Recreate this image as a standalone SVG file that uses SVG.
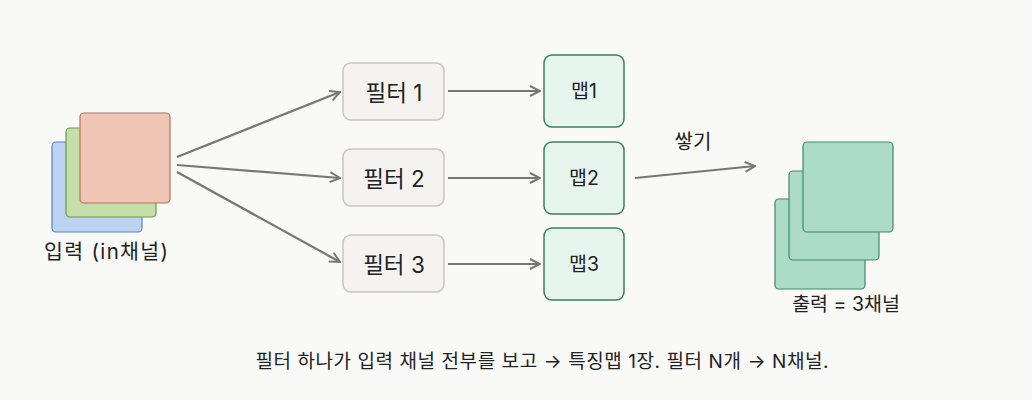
<svg xmlns="http://www.w3.org/2000/svg" width="1032" height="400" viewBox="0 0 1032 400">
<style>
text{font-family:"Inter","Noto Sans CJK KR",sans-serif;fill:#222;text-anchor:middle}
.filter{fill:#f4f3ef;stroke:#c8c6c1;stroke-width:1.5}
.map{fill:#e7f5ef;stroke:#3a7f61;stroke-width:1.5}
.out{fill:#acdcc8;stroke:#3f8a69;stroke-width:1.2}
.conn{stroke:#777;stroke-width:2.2;fill:none}
.ft{font-size:22.5px}
.mt{font-size:19.5px}
</style>
<defs>
<marker id="ah" viewBox="0 0 12 12" refX="11" refY="6" markerWidth="12" markerHeight="12" markerUnits="userSpaceOnUse" orient="auto">
<path d="M1,1 L11,6 L1,11" fill="none" stroke="#777" stroke-width="2"/>
</marker>
</defs>
<rect width="1032" height="400" fill="#f9f9f8"/>
<g id="input">
<rect x="52" y="142" width="90" height="90" rx="4" fill="#bcd4f1" stroke="#5b84c4" stroke-width="1.2"/>
<rect x="66" y="128" width="90" height="89" rx="4" fill="#c6dea7" stroke="#6a9a45" stroke-width="1.2"/>
<rect x="80" y="113" width="90" height="90" rx="4" fill="#efc6b6" stroke="#b5705c" stroke-width="1.2"/>
<text x="106" y="259" font-size="20.5" textLength="124" lengthAdjust="spacing">입력 (in채널)</text>
</g>
<g id="filter1"><rect class="filter" x="343" y="63" width="101" height="57" rx="8"/><text class="ft" x="394" y="101">필터 1</text></g>
<g id="filter2"><rect class="filter" x="343" y="149" width="101" height="57" rx="8"/><text class="ft" x="394" y="187">필터 2</text></g>
<g id="filter3"><rect class="filter" x="343" y="235" width="101" height="57" rx="8"/><text class="ft" x="394" y="273">필터 3</text></g>
<g id="map1"><rect class="map" x="544" y="55" width="80" height="72" rx="8"/><text class="mt" x="584" y="98">맵1</text></g>
<g id="map2"><rect class="map" x="544" y="142" width="80" height="72" rx="8"/><text class="mt" x="584" y="185">맵2</text></g>
<g id="map3"><rect class="map" x="544" y="228" width="80" height="72" rx="8"/><text class="mt" x="584" y="271">맵3</text></g>
<g id="output">
<rect class="out" x="775" y="199" width="90" height="90" rx="4"/>
<rect class="out" x="789" y="171" width="90" height="89" rx="4"/>
<rect class="out" x="803" y="142" width="90" height="90" rx="4"/>
<text x="846" y="311" font-size="19.5">출력 = 3채널</text>
</g>
<g id="connectors">
<line class="conn" x1="177" y1="157" x2="340" y2="92" marker-end="url(#ah)"/>
<line class="conn" x1="177" y1="165" x2="340" y2="178" marker-end="url(#ah)"/>
<line class="conn" x1="177" y1="172" x2="340" y2="262" marker-end="url(#ah)"/>
<line class="conn" x1="448" y1="91" x2="540" y2="91" marker-end="url(#ah)"/>
<line class="conn" x1="448" y1="178" x2="540" y2="178" marker-end="url(#ah)"/>
<line class="conn" x1="448" y1="264" x2="540" y2="264" marker-end="url(#ah)"/>
<line class="conn" x1="635" y1="178" x2="755" y2="166" marker-end="url(#ah)"/>
<text x="693" y="149" font-size="20">쌓기</text>
</g>
<text x="542" y="368" font-size="19" textLength="573" lengthAdjust="spacing">필터 하나가 입력 채널 전부를 보고 → 특징맵 1장. 필터 N개 → N채널.</text>
</svg>
